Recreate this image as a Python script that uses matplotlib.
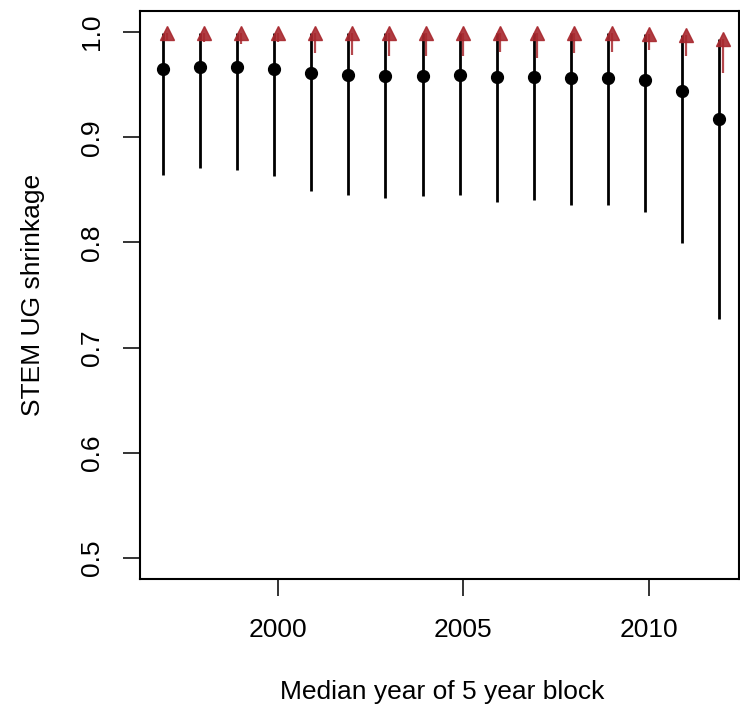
import numpy as np
import matplotlib
matplotlib.use("Agg")
import matplotlib.pyplot as plt

plt.rcParams['font.family'] = ['Liberation Sans', 'DejaVu Sans']

# median year of each 5 year block
years = np.arange(1997, 2013)

# black: posterior point estimate and interval
black_pt = [0.965, 0.967, 0.967, 0.965, 0.961, 0.959, 0.958, 0.958,
            0.959, 0.957, 0.957, 0.956, 0.956, 0.954, 0.944, 0.917]
black_lo = [0.864, 0.871, 0.869, 0.863, 0.849, 0.845, 0.842, 0.844,
            0.845, 0.838, 0.840, 0.836, 0.836, 0.829, 0.799, 0.727]
black_hi = [0.999, 0.999, 0.999, 0.999, 0.999, 0.999, 0.999, 0.999,
            0.999, 0.999, 0.999, 0.999, 0.999, 0.998, 0.997, 0.993]

# red: second estimate (triangles) and interval
red_pt = [0.999, 0.999, 0.999, 0.999, 0.999, 0.999, 0.999, 0.999,
          0.999, 0.999, 0.999, 0.999, 0.999, 0.998, 0.997, 0.993]
red_lo = [0.992, 0.991, 0.989, 0.991, 0.980, 0.978, 0.977, 0.977,
          0.977, 0.981, 0.975, 0.980, 0.981, 0.983, 0.977, 0.961]

RED = '#A8282E'

fig = plt.figure(figsize=(7.4, 7.12), dpi=100)
ax = fig.add_axes([140 / 740, 1 - 579 / 712, 599 / 740, 568 / 712])

xb = years - 0.1
ax.vlines(xb, black_lo, black_hi, color='black', lw=2.0, zorder=2)
ax.plot(xb, black_pt, 'o', color='black', ms=8.5, zorder=3)

ax.vlines(years, red_lo, red_pt, color=RED, lw=1.6, alpha=0.85, zorder=4)
ax.plot(years, red_pt, '^', color=RED, ms=10.5, mec=RED, alpha=0.9, zorder=5)

ax.set_xlim(1996.275, 2012.44)
ax.set_ylim(0.48, 1.02)
ax.set_xticks([2000, 2005, 2010])
ax.set_yticks([0.5, 0.6, 0.7, 0.8, 0.9, 1.0])
ax.set_yticklabels(['0.5', '0.6', '0.7', '0.8', '0.9', '1.0'],
                   rotation=90, va='center')

ax.tick_params(axis='both', direction='out', length=12, width=1.4,
               color='#333333', labelsize=19)
ax.tick_params(axis='x', pad=16)
ax.tick_params(axis='y', pad=14)
for s in ax.spines.values():
    s.set_linewidth(1.5)

fig.text(442 / 740, 1 - 692 / 712, 'Median year of 5 year block',
         ha='center', va='center', fontsize=19)
fig.text(33 / 740, 1 - 295 / 712, 'STEM UG shrinkage', rotation=90,
         ha='center', va='center', fontsize=19)

fig.savefig('out.png', dpi=100)
